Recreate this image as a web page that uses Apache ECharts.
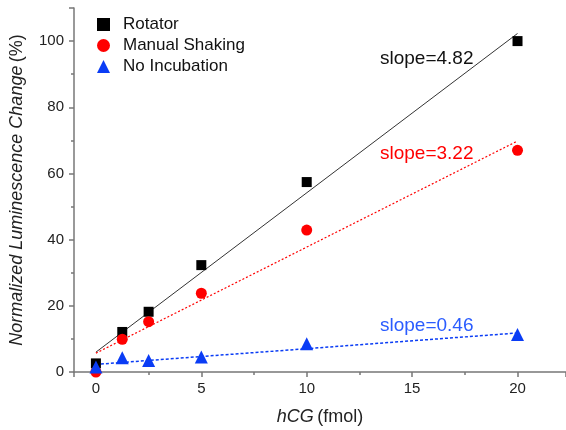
<!DOCTYPE html>
<html>
<head>
<meta charset="utf-8">
<script src="https://cdn.jsdelivr.net/npm/echarts@6/dist/echarts.min.js"></script>
<style>
  html, body { margin: 0; padding: 0; background: #fff; }
  #chart { width: 566px; height: 430px; }
</style>
</head>
<body>
<div id="chart"></div>
<script>
// hCG amounts (fmol)
const doses = [0, 1.25, 2.5, 5, 10, 20];
const rotator = [2.6, 12.1, 18.2, 32.3, 57.4, 100];
const manualShaking = [0, 9.9, 15.2, 23.8, 42.9, 67];
const noIncubation = [1.5, 4.3, 3.5, 4.5, 8.5, 11.3];
// fitted lines, endpoints
const rotatorFit = [[0, 6.0], [20, 102.3]];
const manualFit = [[0, 5.7], [20, 69.8]];
const noIncFit = [[0, 2.3], [20, 11.8]];
const slopeLabels = ["slope=4.82", "slope=3.22", "slope=0.46"];

const BLACK = "#000000", RED = "#ff0000", BLUE = "#0a3cf5";
const FONT = "Liberation Sans, Arial, sans-serif";

const chart = echarts.init(document.getElementById("chart"));

function pts(ys) {
  return doses.map((x, i) => [x, ys[i]]);
}

const option = {
  animation: false,
  textStyle: { fontFamily: FONT },
  grid: { left: 74, right: 0, top: 8, bottom: 58, outerBoundsMode: "none", containLabel: false },
  legend: {
    orient: "vertical",
    left: 92,
    top: 11,
    itemGap: 4,
    itemWidth: 13,
    itemHeight: 13,
    textStyle: { fontSize: 17, color: "#111", fontFamily: FONT, padding: [0, 0, 0, 8] },
    data: ["Rotator", "Manual Shaking", "No Incubation"]
  },
  xAxis: {
    type: "value",
    min: -1.04,
    max: 22.3,
    splitLine: { show: false },
    axisLine: { onZero: false, lineStyle: { color: "#777", width: 1.5 } },
    axisTick: { inside: false, length: 5, lineStyle: { color: "#777", width: 1.5 } },
    minorTick: { show: true, splitNumber: 2, length: 3, lineStyle: { color: "#777", width: 1.5 } },
    axisLabel: {
      margin: 9, fontSize: 15, color: "#222", fontFamily: FONT,
      formatter: v => (v % 5 === 0 ? String(v) : "")
    },
    name: "{i|hCG} {n|(fmol)}",
    nameLocation: "middle",
    nameGap: 36,
    nameTextStyle: {
      rich: {
        i: { fontStyle: "italic", fontSize: 18, color: "#222", fontFamily: FONT },
        n: { fontSize: 18, color: "#222", fontFamily: FONT }
      }
    }
  },
  yAxis: {
    type: "value",
    min: 0,
    max: 110,
    interval: 20,
    splitLine: { show: false },
    axisLine: { show: true, onZero: false, lineStyle: { color: "#777", width: 1.5 } },
    axisTick: { show: true, inside: false, length: 5, lineStyle: { color: "#777", width: 1.5 } },
    minorTick: { show: true, splitNumber: 2, length: 3, lineStyle: { color: "#777", width: 1.5 } },
    axisLabel: {
      margin: 10, fontSize: 15, color: "#222", fontFamily: FONT,
      formatter: v => (v % 20 === 0 ? String(v) : "")
    },
    name: "{i|Normalized Luminescence Change} {n|(%)}",
    nameLocation: "middle",
    nameGap: 48,
    nameRotate: 90,
    nameTextStyle: {
      rich: {
        i: { fontStyle: "italic", fontSize: 18, color: "#222", fontFamily: FONT },
        n: { fontSize: 18, color: "#222", fontFamily: FONT }
      }
    }
  },
  series: [
    {
      type: "line", data: rotatorFit, symbol: "none", silent: true, z: 1,
      lineStyle: { color: "#333", width: 1 }
    },
    {
      type: "line", data: manualFit, symbol: "none", silent: true, z: 1,
      lineStyle: { color: RED, width: 1.2, type: [2, 2] }
    },
    {
      type: "line", data: noIncFit, symbol: "none", silent: true, z: 1,
      lineStyle: { color: BLUE, width: 1.5, type: [3, 2] }
    },
    {
      name: "Rotator", type: "scatter", data: pts(rotator), z: 3,
      symbol: "rect", symbolSize: 10, itemStyle: { color: BLACK, opacity: 1 }
    },
    {
      name: "Manual Shaking", type: "scatter", data: pts(manualShaking), z: 3,
      symbol: "circle", symbolSize: 11, itemStyle: { color: RED, opacity: 1 }
    },
    {
      name: "No Incubation", type: "scatter", data: pts(noIncubation), z: 3,
      symbol: "triangle", symbolSize: 13, itemStyle: { color: BLUE, opacity: 1 }
    }
  ],
  graphic: [
    { type: "text", left: 380, top: 49, style: { text: slopeLabels[0], font: "19px " + FONT, fill: "#111" } },
    { type: "text", left: 380, top: 144, style: { text: slopeLabels[1], font: "19px " + FONT, fill: RED } },
    { type: "text", left: 380, top: 316, style: { text: slopeLabels[2], font: "19px " + FONT, fill: "#2a5cff" } }
  ]
};

chart.setOption(option);
</script>
</body>
</html>
